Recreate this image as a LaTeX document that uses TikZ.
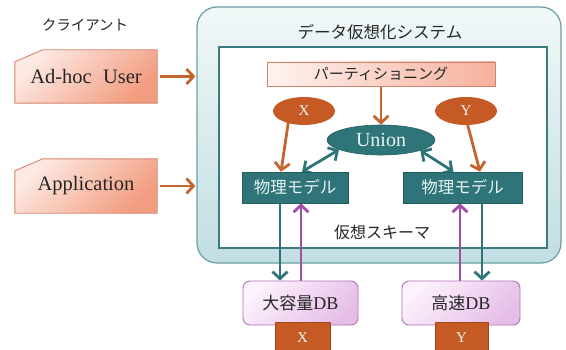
\documentclass[tikz,border=0pt]{standalone}
\usepackage{fontspec}
\setmainfont{Liberation Serif}
\newfontfamily\jp{Noto Sans CJK JP}
\usetikzlibrary{arrows.meta,shapes.geometric,calc}
\pgfdeclarelayer{back}
\pgfdeclarelayer{mid}
\pgfsetlayers{back,mid,main}
\definecolor{tealc}{HTML}{2E7478}
\definecolor{tealdark}{HTML}{24605F}
\definecolor{orangec}{HTML}{C55A24}
\definecolor{orangearr}{HTML}{C4652F}
\definecolor{purplec}{HTML}{A54CA8}
\definecolor{sysborder}{HTML}{6A9FA5}
\definecolor{systop}{HTML}{F1F8F8}
\definecolor{sysbot}{HTML}{C2DEE2}
\definecolor{innerborder}{HTML}{3A7D80}
\definecolor{clientlight}{HTML}{FDEAE3}
\definecolor{clientdark}{HTML}{F29C80}
\definecolor{clientborder}{HTML}{D4846C}
\definecolor{partlight}{HTML}{FFF3EF}
\definecolor{partdark}{HTML}{F6B19D}
\definecolor{dblight}{HTML}{FCF1FC}
\definecolor{dbdark}{HTML}{E5BEE8}
\definecolor{dbborder}{HTML}{B274B6}
\definecolor{lighttext}{HTML}{E8F4F4}
\definecolor{txt}{HTML}{262626}
\tikzset{
  sysbox/.style={draw=sysborder, line width=1.2pt, rounded corners=20pt,
    top color=systop, bottom color=sysbot, inner sep=0pt},
  innerbox/.style={draw=innerborder, line width=1.5pt, fill=white, inner sep=0pt},
  label/.style={text=txt, inner sep=1pt},
  clientshape/.style={draw=clientborder, line width=0.9pt,
    top color=clientlight, bottom color=clientdark, shading angle=45},
  clientbox/.style={minimum width=142pt, inner sep=0pt, text=txt, font=\fontsize{20.5}{22}\selectfont},
  partbox/.style={draw=clientborder, line width=0.9pt, left color=partlight, right color=partdark,
    minimum width=228pt, minimum height=24pt, inner sep=0pt, text=txt, font=\jp\fontsize{15}{17}\selectfont},
  ellx/.style={ellipse, fill=orangec, minimum width=62pt, minimum height=28pt, inner sep=0pt,
    text=lighttext, font=\fontsize{15}{17}\selectfont},
  unionnode/.style={ellipse, fill=tealc, draw=tealdark, line width=0.6pt, minimum width=108pt, minimum height=30pt,
    inner sep=0pt, text=lighttext, font=\fontsize{20}{22}\selectfont},
  physbox/.style={fill=tealc, draw=tealdark, line width=0.6pt, minimum height=31pt, inner sep=0pt,
    text=lighttext, font=\jp\fontsize{16.5}{18}\selectfont},
  dbbox/.style={draw=dbborder, line width=0.9pt, rounded corners=7pt, top color=dblight, bottom color=dbdark,
    shading angle=45, minimum height=44pt, inner sep=0pt, text=txt, font=\fontsize{18}{20}\selectfont},
  tagbox/.style={fill=orangec, draw=orangec!80!black, line width=0.5pt, minimum height=31pt, inner sep=0pt,
    text=lighttext, font=\fontsize{15}{17}\selectfont},
  tip/.style={Straight Barb[length=7pt,width=15pt]},
  oarrow/.style={draw=orangearr, line width=2.8pt, -{Straight Barb[length=7pt,width=15pt]}},
  tarrow/.style={draw=tealc, line width=2.8pt, -{Straight Barb[length=7pt,width=15pt]}},
  tdarrow/.style={draw=tealc, line width=2.8pt, {Straight Barb[length=7pt,width=15pt]}-{Straight Barb[length=7pt,width=15pt]}},
  parrow/.style={draw=purplec, line width=2.8pt, -{Straight Barb[length=7pt,width=15pt]}},
}
\begin{document}
\begin{tikzpicture}[x=1pt,y=1pt]
\useasboundingbox (0,0) rectangle (566,349);
\begin{pgfonlayer}{back}
  \fill[white] (0,0) rectangle (566,349);
  \node[sysbox, minimum width=364pt, minimum height=256pt] (sys) at (379,214) {};
  \node[innerbox, minimum width=328pt, minimum height=201pt] (vs) at (383,201.5) {};
\end{pgfonlayer}

% labels
\node[label, font=\jp\fontsize{16.5}{18}\selectfont] (systitle) at (380,317) {データ仮想化システム};
\node[label, font=\jp\fontsize{14.5}{16}\selectfont] (clientlabel) at (85,324) {クライアント};
\node[label, font=\jp\fontsize{16}{18}\selectfont] (schema) at (382,117) {仮想スキーマ};

% clients
\node[clientbox, minimum height=53pt] (adhoc) at (86,272.5) {Ad-hoc\hspace{0.3em} User};
\node[clientbox, minimum height=54pt] (app) at (86,163) {Application};
\begin{pgfonlayer}{back}
  \foreach \c in {adhoc,app}{
    \shade[clientshape] ($(\c.north west)+(0,-12)$) -- ($(\c.north west)+(28,0)$) -- (\c.north east)
      -- (\c.south east) -- (\c.south west) -- cycle;
  }
\end{pgfonlayer}

% inner structure
\node[partbox] (part) at (381,275) {パーティショニング};
\node[ellx] (ex) at (304,238) {X};
\node[ellx] (ey) at (466,238) {Y};
\node[unionnode] (union) at (381,209) {Union};
\node[physbox, minimum width=106pt] (physL) at (295,161.5) {物理モデル};
\node[physbox, minimum width=119pt] (physR) at (462.5,161.5) {物理モデル};

% databases
\node[dbbox, minimum width=115pt] (dbL) at (300.5,46) {{\jp\fontsize{17}{19}\selectfont 大容量}DB};
\node[dbbox, minimum width=118pt] (dbR) at (461,46) {{\jp\fontsize{17}{19}\selectfont 高速}DB};
\node[tagbox, minimum width=55pt] (tagX) at (302.5,11.5) {X};
\node[tagbox, minimum width=53pt] (tagY) at (461.5,11.5) {Y};

\coordinate (tl) at ($(physL.south)+(-15,0)$);
\coordinate (pl) at ($(physL.south)+(6,0)$);
\coordinate (pr) at ($(physR.south)+(-2.5,0)$);
\coordinate (tr) at ($(physR.south)+(19.5,0)$);
\coordinate (xs) at ($(ex.center)+(-14,0)$);
\coordinate (xe) at ($(physL.north)+(-14,0)$);
\coordinate (ys) at ($(ey.center)+(-2,0)$);
\coordinate (ye) at ($(physR.north)+(17.5,0)$);
\coordinate (ul) at ($(physL.north)+(7,0)$);
\coordinate (ur) at ($(physR.north)+(-9,0)$);

\begin{pgfonlayer}{mid}
  \draw[oarrow, shorten <=3pt, shorten >=1pt] (adhoc.east) -- (adhoc.east -| sys.west);
  \draw[oarrow, shorten <=3pt, shorten >=1pt] (app.east) -- (app.east -| sys.west);
  \draw[oarrow] (part.south) -- (union.north);
  \draw[oarrow] (xs) -- (xe);
  \draw[oarrow] (ys) -- (ye);
  \draw[tdarrow] (union.193) -- (ul);
  \draw[tdarrow] (union.345) -- (ur);
  \draw[tarrow] (tl) -- (tl |- dbL.north);
  \draw[parrow] (pl |- dbL.north) -- (pl);
  \draw[parrow] (pr |- dbR.north) -- (pr);
  \draw[tarrow] (tr) -- (tr |- dbR.north);
\end{pgfonlayer}
\end{tikzpicture}
\end{document}
